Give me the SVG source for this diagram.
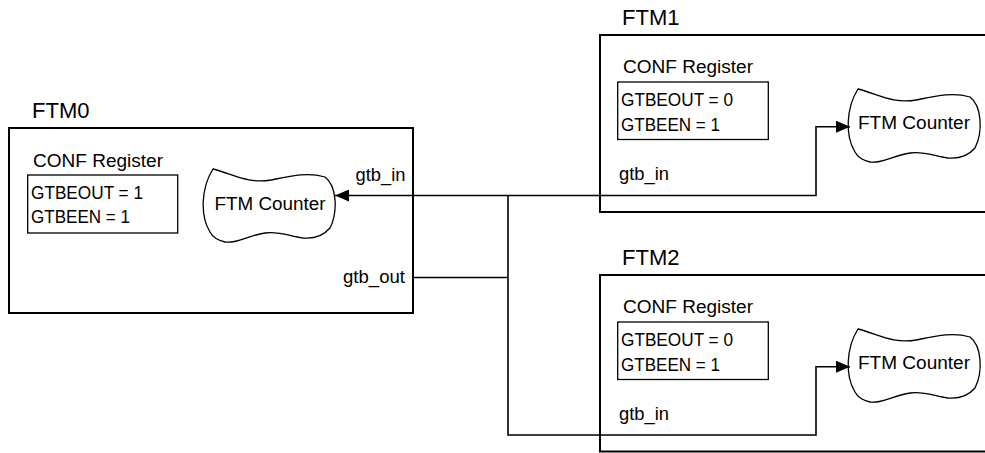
<svg xmlns="http://www.w3.org/2000/svg" width="985" height="453" viewBox="0 0 985 453">
<style>
text{font-family:"Liberation Sans",Arial,sans-serif;fill:#000}
.lbl{font-size:22px}
.t{font-size:17.5px}
.box{fill:none;stroke:#000;stroke-width:2}
.reg{fill:none;stroke:#000;stroke-width:1.3}
.cloud{fill:#fff;stroke:#000;stroke-width:1.3}
.wire{fill:none;stroke:#000;stroke-width:1.6}
</style>
<defs>
<path id="cl" d="M 10 1 C 30 6, 45 16, 68 12 C 88 8, 105 4, 122 9 C 134 18, 135 44, 127 60 C 120 68, 110 71, 100 70 C 86 68, 76 63, 62 65 C 46 67, 34 76, 22 74 C 14 72, 9 68, 7 64 C -3 48, -2 20, 10 1 Z"/>
<marker id="ah" viewBox="0 0 14 12" refX="14" refY="6" markerWidth="14" markerHeight="12" markerUnits="userSpaceOnUse" orient="auto">
<path d="M0,0 L14,6 L0,12 Z" fill="#000"/>
</marker>
</defs>
<g id="FTM0">
<text class="lbl" x="32" y="118">FTM0</text>
<rect class="box" x="9" y="128" width="404" height="185"/>
<text class="t" x="33" y="167" textLength="130" lengthAdjust="spacingAndGlyphs">CONF Register</text>
<rect class="reg" x="27.7" y="175" width="150" height="58"/>
<text class="t" x="31" y="199" textLength="112" lengthAdjust="spacingAndGlyphs">GTBEOUT = 1</text>
<text class="t" x="31" y="223" textLength="99" lengthAdjust="spacingAndGlyphs">GTBEEN = 1</text>
<use href="#cl" class="cloud" x="203" y="168"/>
<text class="t" x="270" y="210" text-anchor="middle" textLength="111" lengthAdjust="spacingAndGlyphs">FTM Counter</text>
<text class="t" x="405.5" y="181" text-anchor="end" textLength="50" lengthAdjust="spacingAndGlyphs">gtb_in</text>
<text class="t" x="405" y="283" text-anchor="end" textLength="62" lengthAdjust="spacingAndGlyphs">gtb_out</text>
</g>
<g id="FTM1">
<text class="lbl" x="622" y="25">FTM1</text>
<rect class="box" x="600" y="35" width="400" height="177"/>
<text class="t" x="623" y="73" textLength="130" lengthAdjust="spacingAndGlyphs">CONF Register</text>
<rect class="reg" x="617.7" y="82" width="150.6" height="57.5"/>
<text class="t" x="621" y="106" textLength="112" lengthAdjust="spacingAndGlyphs">GTBEOUT = 0</text>
<text class="t" x="621" y="131" textLength="99" lengthAdjust="spacingAndGlyphs">GTBEEN = 1</text>
<use href="#cl" class="cloud" x="848" y="88"/>
<text class="t" x="914" y="129" text-anchor="middle" textLength="112" lengthAdjust="spacingAndGlyphs">FTM Counter</text>
<text class="t" x="619" y="180" textLength="50" lengthAdjust="spacingAndGlyphs">gtb_in</text>
</g>
<g id="FTM2">
<text class="lbl" x="622" y="265">FTM2</text>
<rect class="box" x="600" y="275" width="400" height="176.5"/>
<text class="t" x="623" y="313" textLength="130" lengthAdjust="spacingAndGlyphs">CONF Register</text>
<rect class="reg" x="617.7" y="322" width="150.6" height="57.5"/>
<text class="t" x="621" y="346" textLength="112" lengthAdjust="spacingAndGlyphs">GTBEOUT = 0</text>
<text class="t" x="621" y="371" textLength="99" lengthAdjust="spacingAndGlyphs">GTBEEN = 1</text>
<use href="#cl" class="cloud" x="848" y="328"/>
<text class="t" x="914" y="369" text-anchor="middle" textLength="112" lengthAdjust="spacingAndGlyphs">FTM Counter</text>
<text class="t" x="619" y="420" textLength="50" lengthAdjust="spacingAndGlyphs">gtb_in</text>
</g>
<g id="connectors">
<path class="wire" d="M 413 277.5 H 508"/>
<path class="wire" d="M 508 195.5 H 335" marker-end="url(#ah)"/>
<path class="wire" d="M 508 195.5 H 816 V 126.7 H 850" marker-end="url(#ah)"/>
<path class="wire" d="M 508 195.5 V 435 H 816 V 366.7 H 850" marker-end="url(#ah)"/>
</g>
</svg>
